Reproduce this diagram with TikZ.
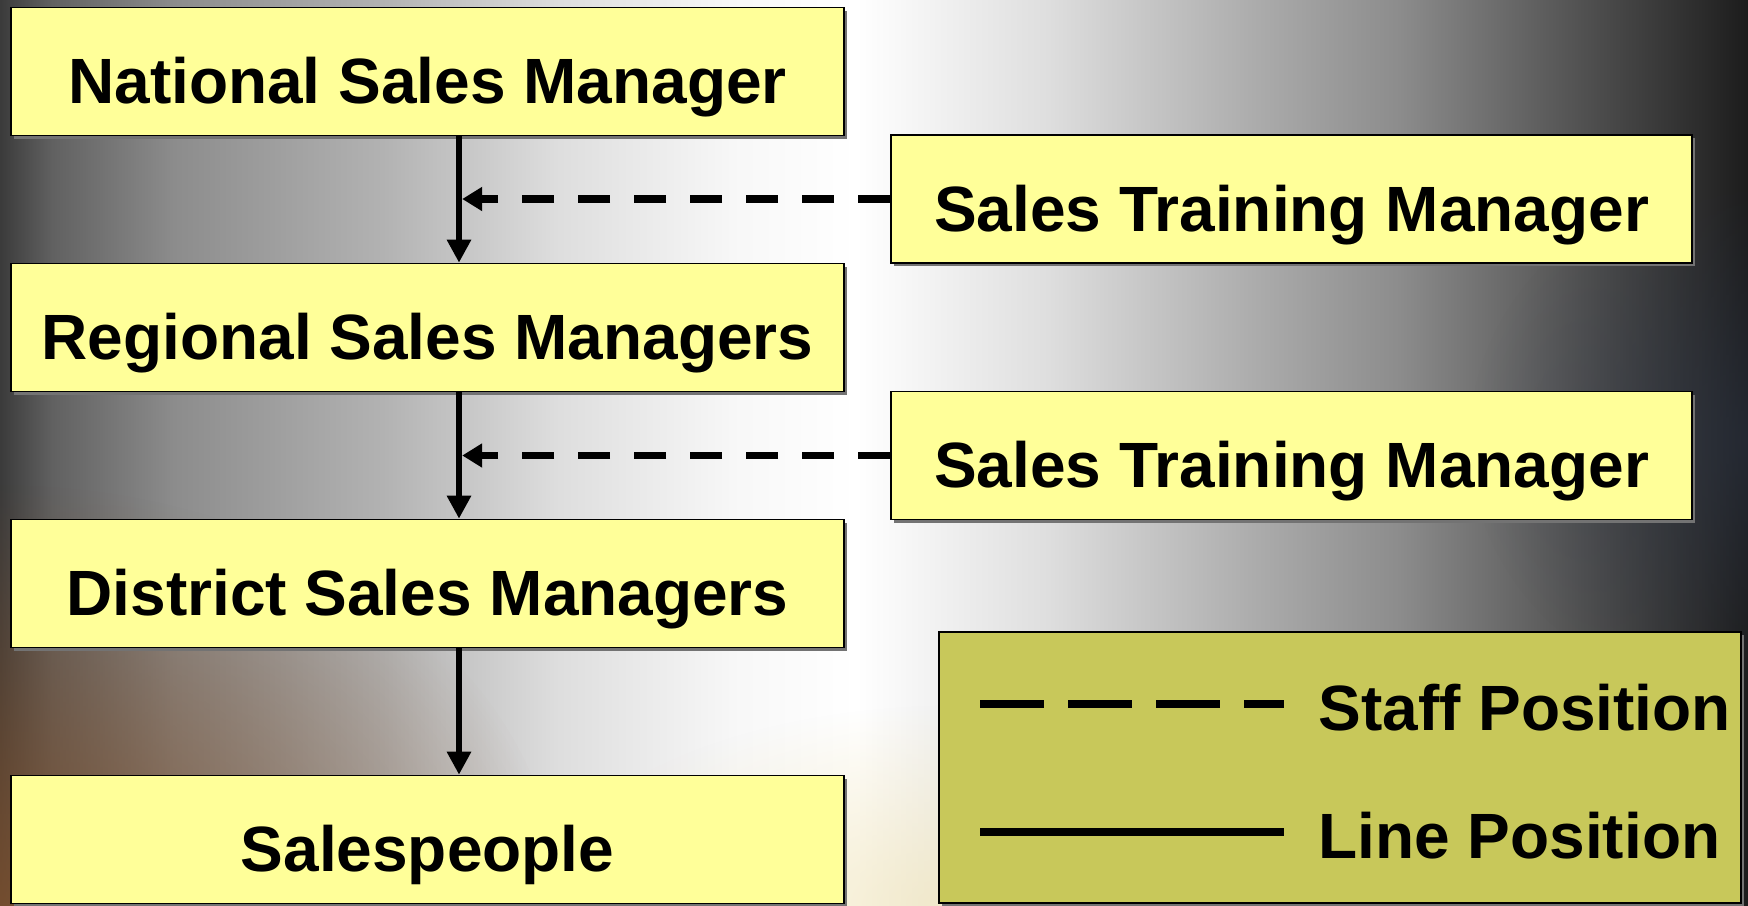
\documentclass[tikz,border=0pt]{standalone}
\usepackage{fontspec}
\setmainfont{Liberation Sans}
\usetikzlibrary{arrows.meta,shadows,fadings}
\definecolor{boxyellow}{RGB}{255,255,153}
\definecolor{keyolive}{RGB}{200,200,90}
\definecolor{bgbrown}{RGB}{125,80,45}
\definecolor{bgcream}{RGB}{240,228,185}
\definecolor{bgslate}{RGB}{45,55,75}
\pgfdeclarehorizontalshading{slidebg}{100bp}{%
  color(0bp)=(black!77); color(25bp)=(black!77); color(26.5bp)=(black!62);
  color(30bp)=(black!45); color(36bp)=(black!30); color(41bp)=(black!13);
  color(46bp)=(black!3); color(49.5bp)=(white); color(55bp)=(black!13);
  color(61bp)=(black!33); color(65bp)=(black!45); color(69.5bp)=(black!65);
  color(73bp)=(black!80); color(75bp)=(black!89); color(100bp)=(black!89)}
\tikzfading[name=glowfade, inner color=transparent!0, outer color=transparent!100]
\begin{document}
\begin{tikzpicture}[x=0.5pt,y=-0.5pt,
	post/.style={draw=black, line width=0.8pt, fill=boxyellow, inner sep=0pt,
		minimum width=416.5pt, minimum height=64pt,
		font=\fontsize{32}{38}\selectfont\bfseries, text height=32pt, text depth=0pt,
		drop shadow={shadow xshift=1.5pt, shadow yshift=-1.5pt, fill=black!55, opacity=1}},
	staffpost/.style={post, minimum width=400.5pt},
	keytext/.style={inner sep=0pt, anchor=base west, font=\fontsize{32}{38}\selectfont\bfseries},
	lineup/.style={line width=3.3pt, -{Triangle[length=11.5pt,width=11.5pt]}},
	staffarrow/.style={line width=3.6pt, dash pattern=on 16pt off 12pt,
		-{Triangle[length=10pt,width=11.5pt]}, shorten >=1.6pt},
	keydash/.style={line width=4pt, dash pattern=on 32pt off 12pt},
	keysolid/.style={line width=4pt}]
	\useasboundingbox (0,0) rectangle (1748,905);
	% slide background
	\begin{scope}
		\clip (0,0) rectangle (1748,905);
		\shade[shading=slidebg] (0,0) rectangle (1748,905);
		\fill[bgbrown, path fading=glowfade, opacity=0.85] (0,905) ellipse [x radius=560, y radius=420];
		\fill[bgcream, path fading=glowfade, opacity=0.7] (960,905) ellipse [x radius=420, y radius=200];
		\fill[bgslate, path fading=glowfade, opacity=0.45] (1748,440) ellipse [x radius=280, y radius=260];
	\end{scope}
	\coordinate (spine) at (459,0);
	\node (NSM) at (427.5,  71.5)	[post]		{National Sales Manager};
	\node (RSM) at (427.5, 327.5)	[post]		{Regional Sales Managers};
	\node (DSM) at (427.5, 583.5)	[post]		{District Sales Managers};
	\node (SP)  at (427.5, 839.5)	[post]		{Salespeople};
	\node (ST1) at (1291.5, 199)	[staffpost]	{Sales Training Manager};
	\node (ST2) at (1291.5, 455.5)	[staffpost]	{Sales Training Manager};
	\draw[lineup] (NSM.south -| spine) -- (RSM.north -| spine);
	\draw[lineup] (RSM.south -| spine) -- (DSM.north -| spine);
	\draw[lineup] (DSM.south -| spine) -- (SP.north -| spine);
	\draw[staffarrow] (ST1.west) -- (ST1.west -| spine);
	\draw[staffarrow] (ST2.west) -- (ST2.west -| spine);
	% legend
	\node (KEY) at (1340, 767.5)	[draw=black, line width=0.8pt, fill=keyolive, minimum width=401pt, minimum height=135.5pt,
		drop shadow={shadow xshift=1.5pt, shadow yshift=-1.5pt, fill=black!55, opacity=1}] {};
	\node (staffkey) at (1318, 730)	[keytext]	{Staff Position};
	\node (linekey)  at (1318, 858)	[keytext]	{Line Position};
	\coordinate (staffA) at (980, 704);
	\coordinate (staffB) at (1284, 704);
	\coordinate (lineA) at (980, 832);
	\coordinate (lineB) at (1284, 832);
	\draw[keydash] (staffA) -- (staffB);
	\draw[keysolid] (lineA) -- (lineB);
\end{tikzpicture}
\end{document}
